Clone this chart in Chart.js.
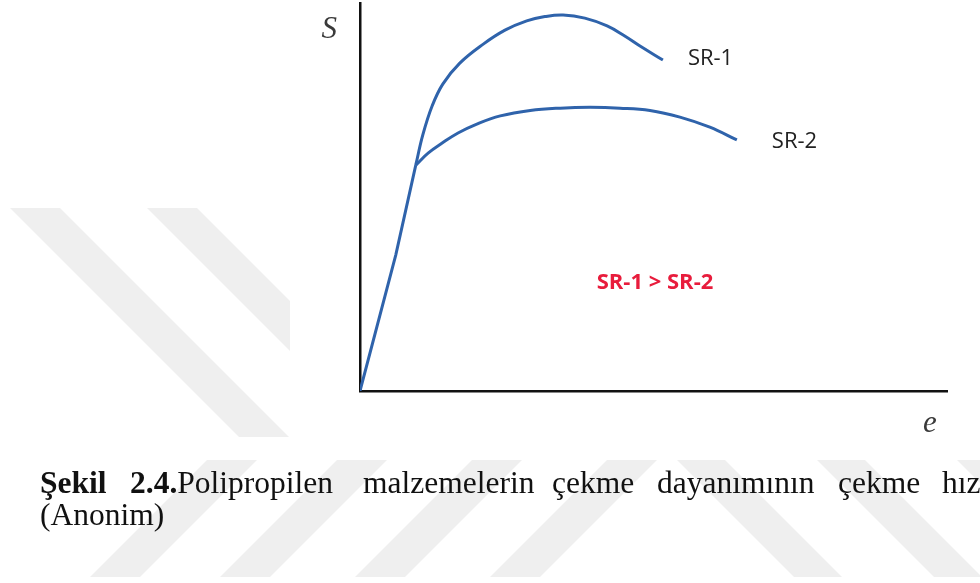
<!DOCTYPE html>
<html lang="tr">
<head>
<meta charset="utf-8">
<title>Polipropilen çekme dayanımı</title>
<script src="https://cdn.jsdelivr.net/npm/chart.js@4.4.1/dist/chart.umd.min.js"></script>
<style>
  html, body { margin: 0; padding: 0; background: #fff; overflow: hidden; }
  #wrap { position: relative; width: 980px; height: 583px; }
</style>
</head>
<body>
<div id="wrap"><canvas id="chart" width="980" height="583"></canvas></div>
<script>
// elastic part shared by both rates (strain e, stress S, relative units)
const elasticE = [0, 6.1, 9.5];
const elasticS = [0, 35.1, 58.2];
// SR-1 (higher pulling rate)
const sr1E = [9.5, 10.7, 12.3, 14.1, 17.0, 21.0, 24.7, 28.4, 31.5, 34.6, 38.3, 42.1, 45.1, 47.7, 51.6];
const sr1S = [58.2, 66.0, 73.5, 79.1, 84.5, 89.4, 93.0, 95.4, 96.5, 96.9, 96.1, 94.1, 91.5, 88.9, 85.3];
// SR-2 (lower pulling rate)
const sr2E = [9.5, 11.6, 14.0, 16.7, 19.9, 23.9, 29.0, 34.1, 39.2, 44.3, 49.4, 54.5, 59.6, 64.2];
const sr2S = [58.2, 61.3, 63.9, 66.5, 68.8, 70.9, 72.3, 72.9, 73.1, 72.9, 72.3, 70.6, 68.0, 64.7];

const seriesNames = ["SR-1", "SR-2"];
const compareText = "SR-1 > SR-2";
const yTitle = "S";
const xTitle = "e";
const captionBold = ["Şekil", "2.4."];
const captionWords = ["Polipropilen", "malzemelerin", "çekme", "dayanımının", "çekme", "hız"];
const captionLine2 = "(Anonim)";

const lineColor = "#2f63ab";

function toPoints(xs, ys) {
  return xs.map((x, i) => ({ x: x, y: ys[i] }));
}

// faint page watermark behind the figure
const watermark = {
  id: "watermark",
  beforeDraw(chart) {
    const c = chart.ctx;
    c.save();
    c.fillStyle = "#efefef";
    // left part, two "\" bands
    c.save();
    c.beginPath();
    c.rect(0, 208, 290, 229);
    c.clip();
    [10, 147].forEach((x0) => {
      c.beginPath();
      c.moveTo(x0, 208);
      c.lineTo(x0 + 50, 208);
      c.lineTo(x0 + 50 + 260, 468);
      c.lineTo(x0 + 260, 468);
      c.closePath();
      c.fill();
    });
    c.restore();
    // strip under the figure
    c.save();
    c.beginPath();
    c.rect(0, 460, 980, 117);
    c.clip();
    [90, 220, 355, 490].forEach((xb) => {
      c.beginPath();
      c.moveTo(xb, 577);
      c.lineTo(xb + 50, 577);
      c.lineTo(xb + 50 + 130, 447);
      c.lineTo(xb + 130, 447);
      c.closePath();
      c.fill();
    });
    [677, 817, 957].forEach((xt) => {
      c.beginPath();
      c.moveTo(xt, 460);
      c.lineTo(xt + 48, 460);
      c.lineTo(xt + 48 + 130, 590);
      c.lineTo(xt + 130, 590);
      c.closePath();
      c.fill();
    });
    c.restore();
    c.restore();
  }
};

// series labels, axis letters and the caption
const labels = {
  id: "labels",
  afterDraw(chart) {
    const c = chart.ctx;
    const xs = chart.scales.x;
    const ys = chart.scales.y;
    const area = chart.chartArea;
    c.save();
    c.textBaseline = "alphabetic";

    c.fillStyle = "#222";
    c.font = "22px 'Open Sans'";
    c.textAlign = "left";
    const end1 = sr1E.length - 1;
    const end2 = sr2E.length - 1;
    c.fillText(seriesNames[0], xs.getPixelForValue(sr1E[end1]) + 25, ys.getPixelForValue(sr1S[end1]) + 5);
    c.fillText(seriesNames[1], xs.getPixelForValue(sr2E[end2]) + 35, ys.getPixelForValue(sr2S[end2]) + 8);

    c.fillStyle = "#e81c3c";
    c.font = "bold 22px 'Open Sans'";
    c.textAlign = "center";
    c.fillText(compareText, area.left + 295, 289);

    c.fillStyle = "#3a3a3a";
    c.font = "italic 31px 'Liberation Serif'";
    c.textAlign = "right";
    c.fillText(yTitle, area.left - 23, 38);
    c.textAlign = "left";
    c.fillText(xTitle, area.right - 24, 432);

    // caption, first line is justified so words sit at fixed spots
    c.fillStyle = "#111";
    c.font = "bold 31.5px 'Liberation Serif'";
    c.fillText(captionBold[0], 40, 493);
    c.fillText(captionBold[1], 130, 493);
    const boldW = c.measureText(captionBold[1]).width;
    c.font = "31.5px 'Liberation Serif'";
    const starts = [130 + boldW, 363, 552, 657, 838, 942];
    captionWords.forEach((w, i) => c.fillText(w, starts[i], 493));
    c.fillText(captionLine2, 40, 525);
    c.restore();
  }
};

const ctx = document.getElementById("chart");
new Chart(ctx, {
  type: "scatter",
  plugins: [watermark, labels],
  data: {
    datasets: [
      {
        data: toPoints(elasticE, elasticS),
        showLine: true,
        borderColor: lineColor,
        borderWidth: 3,
        pointRadius: 0,
        tension: 0
      },
      {
        label: seriesNames[0],
        data: toPoints(sr1E, sr1S),
        showLine: true,
        borderColor: lineColor,
        borderWidth: 3,
        pointRadius: 0,
        tension: 0.4
      },
      {
        label: seriesNames[1],
        data: toPoints(sr2E, sr2S),
        showLine: true,
        borderColor: lineColor,
        borderWidth: 3,
        pointRadius: 0,
        tension: 0.4
      }
    ]
  },
  options: {
    responsive: false,
    animation: false,
    events: [],
    layout: {
      padding: { left: 360, right: 33, top: 3, bottom: 192 }
    },
    plugins: {
      legend: { display: false },
      tooltip: { enabled: false }
    },
    scales: {
      x: {
        type: "linear",
        min: 0,
        max: 100,
        ticks: { display: false },
        grid: { display: false, drawTicks: false },
        border: { display: true, color: "#111", width: 2.5 }
      },
      y: {
        type: "linear",
        min: 0,
        max: 100,
        ticks: { display: false },
        grid: { display: false, drawTicks: false },
        border: { display: true, color: "#111", width: 2.5 }
      }
    }
  }
});
</script>
</body>
</html>
